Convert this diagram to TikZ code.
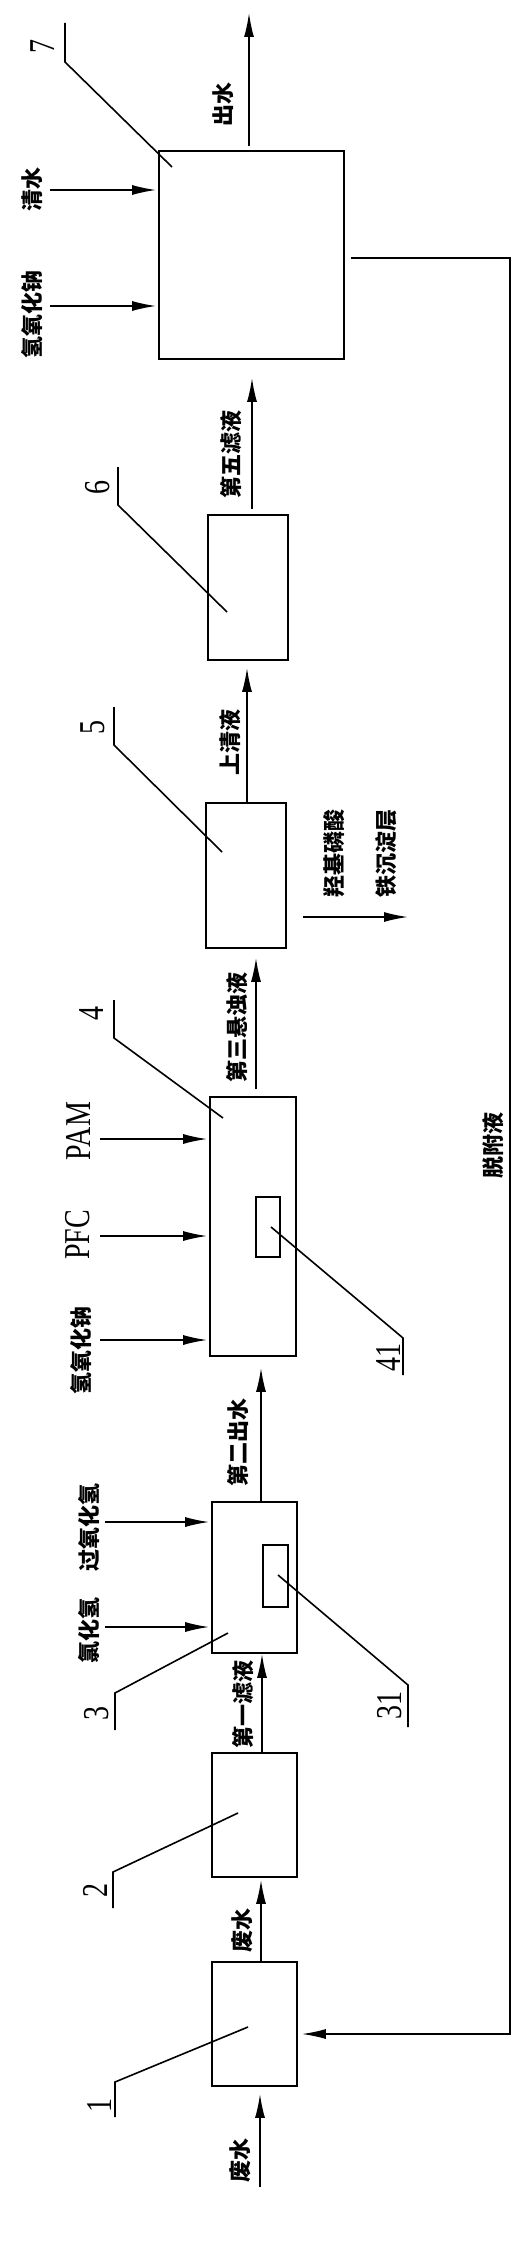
\documentclass[tikz,border=0pt]{standalone}
\usepackage{fontspec}
\setmainfont{Liberation Serif}
\newfontfamily\cjk{Noto Sans CJK SC}
\usetikzlibrary{arrows.meta}
\newcommand{\tallnum}[1]{\scalebox{1}[1.3]{#1}}
\tikzset{
	box/.style={draw, rectangle, inner sep=0pt},
	cn/.style={font=\cjk\bfseries\fontsize{11}{13}\selectfont, rotate=90, inner sep=0pt},
	num/.style={font=\fontsize{14}{14}\selectfont, rotate=90, inner sep=0pt},
}
\begin{document}
\begin{tikzpicture}[x=0.5pt, y=-0.5pt, >={Latex[length=12pt,width=5pt]}, line width=0.8pt]
		\useasboundingbox (0,0) rectangle (530,2242);
		
		% Units
		\node[box, minimum width=92.5pt, minimum height=104pt] (B7) at (251.5,255) {};
		\node[box, minimum width=40pt, minimum height=72.5pt] (B6) at (248,587.5) {};
		\node[box, minimum width=40pt, minimum height=72.5pt] (B5) at (246,875.5) {};
		\node[box, minimum width=43pt, minimum height=129.5pt] (B4) at (253,1226.5) {};
		\node[box, minimum width=42.5pt, minimum height=75.5pt] (B3) at (254.5,1577.5) {};
		\node[box, minimum width=42.5pt, minimum height=62pt] (B2) at (254.5,1815) {};
		\node[box, minimum width=42.5pt, minimum height=62pt] (B1) at (254.5,2024) {};
		\node[box, minimum width=12pt, minimum height=30pt] (I41) at (268,1227) {};
		\node[box, minimum width=12.5pt, minimum height=31pt] (I31) at (275.5,1576) {};
		
		% Main flow
		\coordinate (in0) at (260,2187);
		\coordinate (out7) at (249,13);
		\draw[->, shorten >=3.5pt] (in0) -- ([xshift=2.75pt]B1.south);
		\draw[->, shorten >=1pt] ([xshift=3.25pt]B1.north) -- ([xshift=3.25pt]B2.south);
		\draw[->] ([xshift=3.75pt]B2.north) -- ([xshift=3.75pt]B3.south);
		\draw[->, shorten >=5.5pt] ([xshift=3.25pt]B3.north) -- ([xshift=4pt]B4.south);
		\draw[->, shorten <=3.5pt, shorten >=4.5pt] ([xshift=1.5pt]B4.north) -- ([xshift=5pt]B5.south);
		\draw[->, shorten >=3.5pt] ([xshift=0.5pt]B5.north) -- ([xshift=-0.5pt]B6.south);
		\draw[->, shorten <=2.5pt, shorten >=9pt] ([xshift=2pt]B6.north) -- ([xshift=0.25pt]B7.south);
		\draw[->, shorten <=2pt] ([xshift=-1.25pt]B7.north) -- (out7);
		
		% Dosing
		\foreach \name/\y in {a71/190, a72/306} {
			\coordinate (\name) at (50,\y);
			\draw[->, shorten >=1pt] (\name) -- (\name -| B7.west);
		}
		\foreach \name/\y in {a41/1139, a42/1236, a43/1340} {
			\coordinate (\name) at (100,\y);
			\draw[->, shorten >=1pt] (\name) -- (\name -| B4.west);
		}
		\foreach \name/\y in {a31/1522, a32/1627} {
			\coordinate (\name) at (105,\y);
			\draw[->, shorten >=1pt] (\name) -- (\name -| B3.west);
		}
		
		% Sediment and return
		\coordinate (sd) at (408,917);
		\draw[->, shorten <=8pt] (B5.east |- sd) -- (sd);
		\coordinate (rt) at (510,258);
		\coordinate (rb) at (510,2034);
		\draw[->, shorten <=3pt, shorten >=2pt] (B7.east |- rt) -- (rt) -- (rb) -- (B1.east |- rb);
		
		% Texts
		\node[cn] (t_out) at (223,105) {出水};
		\node[cn] (t_qs) at (32,190) {清水};
		\node[cn] (t_naoh7) at (32,314) {氢氧化钠};
		\node[cn] (t_f5) at (231,454) {第五滤液};
		\node[cn] (t_sq) at (230,742) {上清液};
		\node[cn, align=center, font=\cjk\bfseries\fontsize{11}{26}\selectfont] (t_sd) at (360,853) {羟基磷酸\\铁沉淀层};
		\node[cn] (t_s3) at (237,1027) {第三悬浊液};
		\node[num] (t_pam) at (78,1131) {\tallnum{PAM}};
		\node[num] (t_pfc) at (78,1235) {\tallnum{PFC}};
		\node[cn] (t_naoh4) at (81,1350) {氢氧化钠};
		\node[cn] (t_o2) at (238,1442) {第二出水};
		\node[cn] (t_h2o2) at (89,1527) {过氧化氢};
		\node[cn] (t_hcl) at (89,1630) {氯化氢};
		\node[cn] (t_f1) at (243,1704) {第一滤液};
		\node[cn] (t_ww2) at (242,1930) {废水};
		\node[cn] (t_ww1) at (240,2160) {废水};
		\node[cn] (t_de) at (493,1145) {脱附液};
		
		% Part numbers
		\node[num] (n7) at (43,47) {\tallnum{7}};
		\draw (65,23) -- (65,62) -- (172,167);
		\node[num] (n6) at (98,487) {\tallnum{6}};
		\draw (118,467) -- (118,505) -- (227,612);
		\node[num] (n5) at (93,727) {\tallnum{5}};
		\draw (114,707) -- (114,745) -- (222,852);
		\node[num] (n4) at (92,1013) {\tallnum{4}};
		\draw (114,1000) -- (114,1038) -- (223,1118);
		\node[num] (n41) at (388,1357) {\tallnum{41}};
		\draw (271,1227) -- (403,1338) -- (403,1375);
		\node[num] (n31) at (390,1705) {\tallnum{31}};
		\draw (278,1575) -- (408,1685) -- (408,1727);
		\node[num] (n3) at (97,1713) {\tallnum{3}};
		\draw (228,1633) -- (115,1693) -- (115,1730);
		\node[num] (n2) at (95,1890) {\tallnum{2}};
		\draw (238,1813) -- (113,1872) -- (113,1908);
		\node[num] (n1) at (99,2105) {\tallnum{1}};
		\draw (248,2027) -- (115,2082) -- (115,2117);
	\end{tikzpicture}
\end{document}
